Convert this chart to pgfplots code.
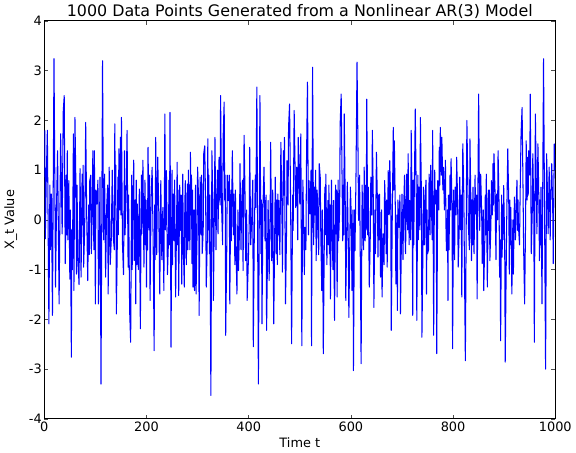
\documentclass[border=1pt]{standalone}
\usepackage{fontspec}
\setmainfont{DejaVu Sans}
\usepackage{pgfplots}
\pgfplotsset{compat=1.18}

\pgfplotstableread{
t v
1 1.80
2 -0.38
4 0.90
6 1.80
9 -2.09
11 0.70
12 -0.60
14 0.52
16 -1.92
19 3.24
22 -1.35
24 0.30
26 1.39
29 -1.69
32 1.73
35 -0.28
37 2.16
39 2.50
41 -0.88
43 0.90
44 -0.30
45 1.39
46 -0.40
48 0.79
50 -1.19
51 0.20
53 -2.76
54 -0.20
55 -1.00
57 1.73
58 -1.42
60 2.06
62 0.60
63 -1.09
64 0.70
66 -0.82
68 -1.30
70 1.03
72 -1.15
74 0.92
75 -0.10
76 1.10
77 -0.95
79 -0.20
81 1.96
83 0.10
85 -1.22
87 0.30
88 -0.70
89 0.79
91 0.90
92 -0.68
94 0.20
95 1.39
97 -0.60
98 1.39
100 -1.69
101 0.60
103 0.32
105 0.80
106 -1.69
108 -0.30
109 0.86
111 -3.30
114 3.20
116 -0.40
118 0.92
120 -1.15
122 0.25
124 0.70
125 -1.49
127 1.06
129 -0.90
131 -0.42
133 1.00
135 -0.35
137 -0.60
138 1.93
139 0.30
140 1.10
141 -1.89
143 -0.40
144 0.86
145 -0.30
146 1.43
148 0.20
149 1.66
150 0.10
151 2.06
153 -0.48
155 -1.10
157 1.39
158 -0.30
160 0.39
162 1.80
164 -0.95
165 0.50
167 -1.82
169 -2.46
171 0.90
172 -1.00
173 0.05
175 1.20
176 -0.82
178 0.40
179 -1.69
180 0.80
181 -0.90
182 0.32
184 -1.00
186 0.62
188 -2.19
190 0.90
191 -0.28
193 1.20
195 -0.95
197 0.80
198 -0.50
199 0.40
200 -1.35
201 0.20
202 -0.60
203 1.46
205 -0.20
206 0.90
207 -1.62
209 0.40
211 1.06
213 -0.40
215 -2.63
216 0.30
217 -0.80
218 1.66
220 -0.70
222 1.26
224 0.20
226 -1.49
228 0.79
230 -0.80
232 0.25
234 -1.42
236 2.13
237 -0.20
239 0.99
241 -1.10
243 -0.42
244 0.80
245 -0.50
246 2.16
248 -2.56
250 1.00
251 -0.90
252 0.52
254 -0.42
255 0.80
257 -1.55
259 0.00
260 1.16
261 -0.50
262 0.60
263 -1.52
265 0.70
266 -0.21
268 0.50
269 -1.29
271 0.92
272 -0.50
274 -1.35
275 0.30
276 0.79
278 -0.90
280 0.72
281 -0.60
282 1.00
283 -0.42
284 0.70
285 -0.60
286 1.36
287 0.10
288 0.90
289 -0.88
290 0.60
291 -1.35
293 0.20
294 -1.42
296 0.70
297 -1.49
299 -0.30
300 1.06
302 0.40
303 -1.92
305 0.86
307 -0.30
308 0.90
309 -0.68
311 -0.20
312 1.33
314 1.49
316 0.10
317 -1.35
319 -0.40
320 1.63
321 -0.20
322 0.90
323 -0.68
324 0.50
326 -3.53
328 1.39
330 0.20
331 -1.62
333 0.40
334 1.66
336 -0.60
337 0.25
339 1.00
340 -0.28
342 1.26
344 0.30
345 2.50
347 0.25
349 -0.50
350 1.66
352 2.37
353 0.40
354 0.90
355 -2.32
357 -0.68
358 0.90
360 0.39
362 0.90
363 -1.69
365 0.60
366 -0.42
368 1.39
370 -0.30
371 0.52
373 -0.90
374 0.60
375 -0.48
377 -1.49
379 0.20
380 -1.02
382 -0.20
383 1.13
385 -0.60
386 0.25
388 0.80
389 -1.02
391 1.70
393 0.40
394 -0.82
396 0.20
397 -1.62
399 -0.95
401 -0.10
402 1.46
404 -0.50
406 0.05
408 0.80
409 -2.55
411 -0.28
413 0.90
414 0.25
416 2.67
419 -3.30
422 2.50
424 -0.68
425 0.40
426 -2.09
428 0.30
430 1.06
432 -0.42
434 0.50
435 -2.22
437 -0.60
438 0.39
440 -1.22
442 0.20
443 1.56
445 -0.82
447 0.60
449 -2.09
451 -0.20
452 0.86
454 -0.68
455 0.40
456 -0.90
457 0.52
458 -0.30
459 0.39
461 -0.70
463 1.56
465 0.20
466 -1.05
468 1.39
469 0.50
470 1.66
472 -1.69
474 -0.30
475 1.19
477 0.30
478 1.86
480 2.33
482 0.39
484 -2.49
486 0.50
487 -0.21
489 2.20
491 0.90
492 0.25
494 1.06
496 -0.40
497 1.66
499 0.90
500 0.32
502 1.73
504 -2.53
505 -0.60
506 0.80
507 0.25
509 -1.10
510 -0.15
512 -0.60
513 1.06
515 2.77
517 -0.30
518 0.79
520 0.12
522 1.00
523 -2.53
525 3.07
527 -0.50
529 0.66
530 0.10
531 1.00
532 -0.82
534 0.60
535 0.05
537 -0.70
538 1.13
540 0.86
541 -0.20
543 -1.42
544 0.20
545 -0.80
546 -2.69
548 -0.40
549 0.66
550 -0.30
551 0.92
553 -0.90
555 0.39
556 -0.50
557 0.70
558 -0.68
559 0.30
560 -1.59
562 0.80
563 -0.21
565 -1.00
566 0.39
568 -2.02
570 0.70
571 -0.28
572 0.60
573 -1.55
575 0.80
576 -0.42
578 0.20
579 1.93
581 2.53
584 -0.42
585 0.70
586 -0.30
587 2.13
589 0.30
590 -1.62
592 -0.10
593 0.76
595 -0.50
596 -1.96
598 -0.40
599 0.66
601 0.00
602 -1.42
604 0.20
605 -3.03
607 0.20
608 -0.62
610 0.90
612 3.17
614 1.33
615 -0.01
617 0.90
618 -0.28
620 -2.89
622 0.70
623 -0.01
625 -0.60
626 1.06
628 -0.42
629 0.70
630 -0.20
631 2.43
633 -0.30
634 0.66
636 -1.35
638 -0.30
639 0.86
641 0.10
642 1.80
644 0.30
645 -1.76
647 0.20
648 -0.68
650 1.36
652 0.30
653 -0.75
654 0.50
655 -0.40
656 0.52
658 -1.15
660 0.20
661 -1.55
663 -0.28
665 -0.90
666 0.79
668 0.10
669 -0.68
670 0.40
671 -0.95
673 0.99
675 0.10
676 1.19
678 0.30
679 -2.22
681 0.12
683 1.86
684 0.60
685 1.59
687 0.20
688 -1.29
690 0.10
691 -1.82
692 0.40
694 -0.15
696 0.50
697 -1.89
699 -0.30
700 0.52
702 -0.80
703 0.12
705 0.90
706 -0.30
707 -0.68
709 0.92
711 -0.20
712 1.33
714 -0.50
715 0.39
717 -0.40
718 1.80
720 0.20
721 -1.92
722 0.80
723 -0.50
724 0.52
726 2.23
728 0.40
729 -2.02
731 0.90
732 -0.40
733 0.66
735 -0.20
736 2.06
738 0.50
739 -2.36
741 -0.60
742 0.66
744 -0.50
745 0.39
747 0.80
748 -1.49
749 0.20
750 -0.68
752 -0.60
753 0.92
755 -0.30
756 1.10
757 0.66
759 -0.40
760 1.80
762 -2.32
763 -0.20
764 1.00
765 0.32
767 0.60
768 -2.69
770 0.79
772 0.20
773 1.46
774 0.70
775 1.86
777 0.90
778 1.66
780 0.60
781 1.06
783 0.20
784 0.72
785 1.20
786 -0.10
787 -0.62
789 0.20
790 -1.62
791 0.50
792 -0.60
793 0.12
794 0.90
795 0.20
796 1.23
798 0.30
799 -2.59
801 0.60
802 -0.28
803 -0.80
804 0.66
806 0.10
807 1.26
809 0.30
810 -0.95
812 -0.20
813 0.86
815 -0.20
816 0.50
817 -1.55
819 1.53
821 0.50
822 -0.68
824 -2.83
827 2.00
829 0.60
830 -0.15
832 -0.60
833 1.63
835 0.20
836 -0.82
837 0.40
838 -0.50
839 0.66
841 -0.68
843 0.90
844 0.12
846 0.50
847 -1.59
850 2.53
852 -0.21
854 0.92
856 0.10
857 -0.88
859 0.20
860 -1.42
862 -0.42
863 0.50
864 -0.30
865 0.92
867 -1.35
869 0.60
870 -0.21
871 0.60
872 -0.82
874 -0.10
875 0.79
877 0.10
878 1.13
879 0.30
880 1.33
882 0.60
883 -0.21
884 -0.80
885 0.52
887 0.00
888 1.39
890 0.30
891 -1.15
892 -0.40
893 -2.43
895 0.50
896 -0.75
897 0.30
898 -0.40
899 0.69
901 -0.50
902 -2.86
904 -0.90
905 0.05
907 1.43
909 0.30
910 -1.09
911 0.40
912 -0.50
913 0.25
915 -1.49
917 0.00
918 -1.09
920 0.46
922 -0.40
923 0.12
925 0.80
926 -0.21
927 0.40
928 -0.15
930 -0.50
931 0.39
933 1.73
935 2.26
937 0.50
938 -0.55
940 -1.69
942 0.10
943 1.59
945 0.40
946 1.26
947 0.50
948 1.39
950 0.90
951 2.53
953 -0.68
955 0.20
956 1.33
958 0.10
959 -2.46
961 2.13
963 0.60
964 -0.28
966 1.53
968 0.30
969 -0.82
970 0.40
971 -0.50
972 0.66
974 -1.69
977 3.24
981 -3.00
983 1.33
985 0.40
986 -0.28
988 1.06
990 -0.40
991 0.39
993 1.13
995 0.20
996 -0.88
998 1.53
999 1.00
}\series

\begin{document}
\begin{tikzpicture}
\begin{axis}[
  width=515pt, height=401pt, scale only axis,
  xmin=0, xmax=1000, ymin=-4, ymax=4,
  xtick={0,200,...,1000}, ytick={-4,-3,...,4},
  tick align=inside, major tick length=4pt,
  tick style={black!70, line width=0.6pt},
  axis line style={black, line width=1pt},
  /pgf/number format/assume math mode=true,
  /pgf/number format/1000 sep={},
  tick label style={font=\fontsize{13}{15}\selectfont},
  yticklabel style={xshift=1pt},
  label style={font=\fontsize{13}{15}\selectfont},
  title style={font=\fontsize{16}{18}\selectfont, yshift=-7pt},
  title={1000 Data Points Generated from a Nonlinear AR(3) Model},
  xlabel={Time t}, ylabel={X\_t Value},
  xlabel style={yshift=1pt}, ylabel style={yshift=5pt},
]
\addplot[blue, line width=1.05pt, line join=round] table[x=t, y=v] {\series};
\end{axis}
\end{tikzpicture}
\end{document}
